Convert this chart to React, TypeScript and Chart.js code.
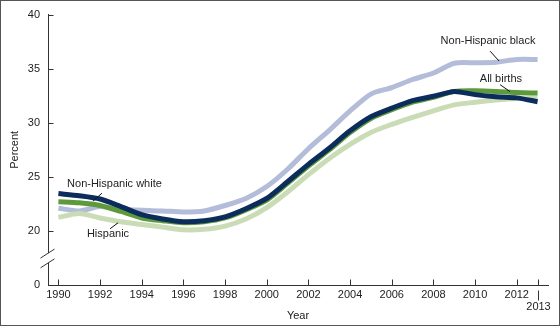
import React, { useEffect, useRef } from "react";
import { Chart, registerables } from "chart.js";

Chart.register(...registerables);

const years = [1990, 1991, 1992, 1993, 1994, 1995, 1996, 1997, 1998, 1999, 2000, 2001, 2002, 2003, 2004, 2005, 2006, 2007, 2008, 2009, 2010, 2011, 2012, 2013];
const xTickYears = [1990, 1992, 1994, 1996, 1998, 2000, 2002, 2004, 2006, 2008, 2010, 2012];
const yTickValues = [15, 20, 25, 30, 35, 40];

const nhWhite = [23.45, 23.25, 22.95, 22.25, 21.5, 21.1, 20.85, 20.95, 21.3, 22.05, 23.0, 24.55, 26.15, 27.65, 29.25, 30.55, 31.35, 32.05, 32.45, 32.9, 32.6, 32.4, 32.3, 31.95];
const allBirths = [22.7, 22.6, 22.35, 21.8, 21.2, 20.95, 20.75, 20.85, 21.2, 21.95, 22.85, 24.4, 26.0, 27.5, 29.1, 30.4, 31.2, 31.9, 32.35, 32.9, 32.95, 32.9, 32.8, 32.75];
const hispanic = [21.25, 21.6, 21.2, 20.85, 20.6, 20.35, 20.1, 20.15, 20.45, 21.1, 22.15, 23.6, 25.2, 26.7, 28.0, 29.1, 29.85, 30.5, 31.1, 31.65, 31.9, 32.1, 32.25, 32.3];
const nhBlack = [22.1, 21.85, 22.25, 22.0, 21.9, 21.85, 21.75, 21.85, 22.35, 23.0, 24.1, 25.7, 27.6, 29.3, 31.1, 32.65, 33.25, 34.0, 34.6, 35.5, 35.55, 35.6, 35.85, 35.85];

// annotation labels in data units: [x, y, leaderX1, leaderY1, leaderX2, leaderY2]
const labelTexts = ["Non-Hispanic black", "All births", "Non-Hispanic white", "Hispanic"];
const labelPos = [
  [2010.62, 37.54, 2010.72, 36.62, 2011.15, 35.71],
  [2011.24, 34.07, 2011.2, 33.52, 2011.68, 32.88],
  [1992.69, 24.31, 1992.09, 23.49, 1991.66, 22.76],
  [1992.38, 19.74, 1992.86, 20.75, 1992.48, 20.2],
];

const FONT = "'Liberation Sans', Arial, Helvetica, sans-serif";
const TEXT = "#222222";
const AXIS = "#333333";

const toXY = (arr: number[]) => arr.map((v, i) => ({ x: years[i], y: v }));

const decor = {
  id: "decor",
  afterDraw(chart: any) {
    const ctx = chart.ctx;
    const xs = chart.scales.x;
    const ys = chart.scales.y;
    const area = chart.chartArea;
    ctx.save();
    ctx.strokeStyle = AXIS;
    ctx.lineWidth = 1;
    const bottom = Math.round(area.bottom) + 0.5;
    [...xTickYears, 2013].forEach((yr) => {
      const px = Math.round(xs.getPixelForValue(yr)) + 0.5;
      ctx.beginPath();
      ctx.moveTo(px, bottom);
      ctx.lineTo(px, bottom - 6);
      ctx.stroke();
    });
    const left = Math.round(area.left) + 0.5;
    yTickValues.slice(1).forEach((v) => {
      const py = Math.round(ys.getPixelForValue(v)) + 0.5;
      ctx.beginPath();
      ctx.moveTo(left, py);
      ctx.lineTo(left + 5, py);
      ctx.stroke();
    });
    // axis break
    const b1 = ys.getPixelForValue(17.95);
    const b2 = ys.getPixelForValue(17.05);
    ctx.fillStyle = "#ffffff";
    ctx.fillRect(left - 3, b1, 6, b2 - b1);
    ctx.beginPath();
    ctx.moveTo(left - 8, b1 + 5);
    ctx.lineTo(left + 6, b1 - 4);
    ctx.moveTo(left - 8, b2 + 5);
    ctx.lineTo(left + 6, b2 - 4);
    ctx.stroke();
    // 2013 label with connector
    const p13 = Math.round(xs.getPixelForValue(2013)) + 0.5;
    ctx.beginPath();
    ctx.moveTo(p13, bottom + 5);
    ctx.lineTo(p13, bottom + 15);
    ctx.stroke();
    ctx.fillStyle = TEXT;
    ctx.font = `11px ${FONT}`;
    ctx.textAlign = "center";
    ctx.textBaseline = "middle";
    ctx.fillText("2013", p13, bottom + 21);
    ctx.fillText("Year", (area.left + area.right) / 2, 316);
    ctx.save();
    ctx.translate(15, (area.top + area.bottom) / 2);
    ctx.rotate(-Math.PI / 2);
    ctx.fillText("Percent", 0, 0);
    ctx.restore();
    labelTexts.forEach((t, i) => {
      const p = labelPos[i];
      ctx.fillStyle = TEXT;
      ctx.fillText(t, xs.getPixelForValue(p[0]), ys.getPixelForValue(p[1]));
      ctx.strokeStyle = "#111111";
      ctx.beginPath();
      ctx.moveTo(xs.getPixelForValue(p[2]), ys.getPixelForValue(p[3]));
      ctx.lineTo(xs.getPixelForValue(p[4]), ys.getPixelForValue(p[5]));
      ctx.stroke();
    });
    ctx.strokeStyle = "#555555";
    ctx.strokeRect(0.5, 0.5, chart.width - 1, chart.height - 1);
    ctx.restore();
  },
};

export default function App() {
  const ref = useRef<HTMLCanvasElement | null>(null);
  useEffect(() => {
    document.body.style.margin = "0";
    if (!ref.current) return;
    Chart.defaults.font.family = FONT;
    Chart.defaults.font.size = 11;
    Chart.defaults.color = TEXT;
    const mk = (label: string, data: number[], color: string, width: number) => ({
      label,
      data: toXY(data),
      borderColor: color,
      backgroundColor: color,
      borderWidth: width,
      pointRadius: 0,
      tension: 0.25,
      fill: false,
    });
    const chart = new Chart(ref.current, {
      type: "line",
      data: {
        datasets: [
          mk("Non-Hispanic white", nhWhite, "#0c2d5b", 5),
          mk("All births", allBirths, "#5c9a3c", 5),
          mk("Hispanic", hispanic, "#cadcb5", 5),
          mk("Non-Hispanic black", nhBlack, "#b3bcd8", 5),
        ],
      },
      options: {
        responsive: false,
        animation: false,
        devicePixelRatio: 1,
        layout: { padding: { top: 11, right: 12, left: 0, bottom: 0 } },
        plugins: { legend: { display: false }, tooltip: { enabled: false } },
        scales: {
          x: {
            type: "linear",
            min: 1989.5,
            max: 2013.5,
            afterBuildTicks: (s: any) => {
              s.ticks = xTickYears.map((v) => ({ value: v }));
            },
            afterFit: (s: any) => {
              s.height = 41;
            },
            ticks: { autoSkip: false, maxRotation: 0, padding: 3, callback: (v: any) => String(v) },
            grid: { display: false, drawTicks: false },
            border: { display: true, color: AXIS, width: 1 },
          },
          y: {
            type: "linear",
            min: 15,
            max: 40,
            afterBuildTicks: (s: any) => {
              s.ticks = yTickValues.map((v) => ({ value: v }));
            },
            afterFit: (s: any) => {
              s.width = 48;
            },
            ticks: { padding: 8, callback: (v: any) => (v === 15 ? "0" : String(v)) },
            grid: { display: false, drawTicks: false },
            border: { display: true, color: AXIS, width: 1 },
          },
        },
      },
      plugins: [decor],
    });
    return () => chart.destroy();
  }, []);
  return <canvas ref={ref} width={560} height={326} style={{ display: "block" }} />;
}
